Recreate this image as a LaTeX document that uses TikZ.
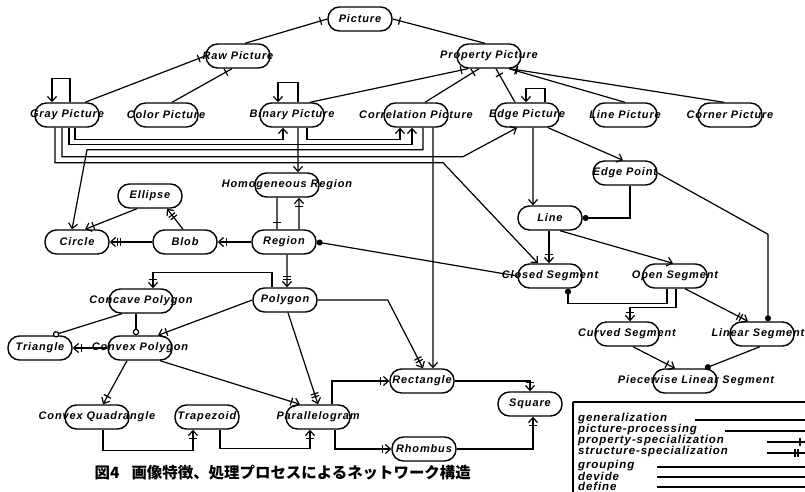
\documentclass[tikz,border=0pt]{standalone}
\usepackage{fontspec}
\setmainfont{Liberation Sans}
\newfontfamily\lblfont[LetterSpace=8]{Liberation Sans}
\newfontfamily\cjkfont{Noto Sans CJK JP}
\usetikzlibrary{arrows.meta,decorations.markings}
\tikzset{
  shp/.style={draw, line width=1.4bp, rectangle, rounded corners=11.5bp,
    minimum width=64bp, minimum height=24bp, inner sep=0pt},
  lbl/.style={font=\lblfont\bfseries\itshape\fontsize{11}{13}\selectfont, inner sep=0pt},
  leg/.style={font=\lblfont\bfseries\itshape\fontsize{11.5}{12}\selectfont, inner sep=0pt, anchor=west},
  e/.style={draw, line width=1.2bp},
  ar/.style={-{Straight Barb[length=5bp,width=9bp]}},
  tk/.style={postaction={decorate,decoration={markings,
      mark=at position #1 with {\draw[-,line width=1.2bp] (0,-4) -- (0,4);}}}},
  tka/.style={ar, tk=-9bp},
  dta/.style={ar, tk=-8bp, tk=-11bp},
  tke/.style={tk=-7bp},
  dot/.style={-{Circle[length=6bp]}},
  ocirc/.style={-{Circle[open,length=6.5bp,fill=white]}},
}
\newcommand\mknode[4]{\node[shp] (#1) at (#2,#3) {};\node[lbl] (#1-t) at (#1.center) {#4};}
\begin{document}
\begin{tikzpicture}[x=1bp,y=-1bp]
\fill[white] (0,0) rectangle (805,492);
\useasboundingbox (0,0) rectangle (805,492);
% nodes
\mknode{Picture}{360}{19}{Picture}
\mknode{RawPic}{238}{56}{Raw Picture}
\mknode{PropPic}{489}{56}{Property Picture}
\mknode{GrayPic}{67}{115}{Gray Picture}
\mknode{ColorPic}{166}{115}{Color Picture}
\mknode{BinPic}{292}{115}{Binary Picture}
\mknode{CorrPic}{416}{115}{Correlation Picture}
\mknode{EdgePic}{527}{115}{Edge Picture}
\mknode{LinePic}{625}{115}{Line Picture}
\mknode{CornerPic}{730}{115}{Corner Picture}
\mknode{Homog}{287}{185}{Homogeneous Region}
\mknode{Ellipse}{150}{196}{Ellipse}
\mknode{EdgePoint}{625}{173}{Edge Point}
\mknode{Line}{550}{218}{Line}
\mknode{Circle}{77}{242}{Circle}
\mknode{Blob}{185}{242}{Blob}
\mknode{Region}{284}{242}{Region}
\mknode{ClosedSeg}{550}{276}{Closed Segment}
\mknode{OpenSeg}{675}{276}{Open Segment}
\mknode{Concave}{141}{301}{Concave Polygon}
\mknode{Polygon}{285}{300}{Polygon}
\mknode{Triangle}{40}{348}{Triangle}
\mknode{Convex}{140}{348}{Convex Polygon}
\mknode{CurvedSeg}{627}{334}{Curved Segment}
\node[shp] (LinearSeg) at (762,334) {};
\node[lbl] (LinearSeg-t) at (758,334) {Linear Segment};
\node[shp] (Piecewise) at (685,381) {};
\node[lbl] (Piecewise-t) at (696,381) {Piecewise Linear Segment};
\mknode{Rectangle}{422}{381}{Rectangle}
\mknode{Square}{530}{404}{Square}
\mknode{ConvQuad}{97}{417}{Convex Quadrangle}
\mknode{Trapezoid}{207}{417}{Trapezoid}
\mknode{Parallelogram}{318}{417}{Parallelogram}
\mknode{Rhombus}{424}{449}{Rhombus}
% top hierarchy
\draw[e,tke] ([xshift=7bp]RawPic.north) -- (Picture.west);
\draw[e,tke] ([xshift=-4bp]PropPic.north) -- (Picture.east);
\draw[e,tke] ([xshift=18bp]GrayPic.north) -- (RawPic.west);
\draw[e,tke] ([xshift=6bp]ColorPic.north) -- ([xshift=-6bp]RawPic.south);
\draw[e,tke] ([xshift=18bp]BinPic.north) -- ([xshift=-21bp]PropPic.south);
\draw[e,tke] ([xshift=9bp]CorrPic.north) -- ([xshift=-10bp]PropPic.south);
\draw[e,tke] ([xshift=-12bp]EdgePic.north) -- ([xshift=7bp]PropPic.south);
\draw[e,tke] (LinePic.north) -- ([xshift=20bp]PropPic.south);
\draw[e,tke] ([xshift=-6bp]CornerPic.north) -- ([xshift=21bp]PropPic.south);
% self loops
\draw[e,ar] ([xshift=3bp]GrayPic.north) -- ++(0,-24) -| ([xshift=-15bp]GrayPic.north);
\draw[e,ar] ([xshift=6bp]BinPic.north) -- ++(0,-20) -| ([xshift=-14bp]BinPic.north);
\draw[e,ar] ([xshift=18bp]EdgePic.north) -- ++(0,-14) -| ([xshift=-1bp]EdgePic.north);
% picture processing
\draw[e,ar] ([xshift=8bp]GrayPic.south) -- ++(0,12) -| ([xshift=-9bp]BinPic.south);
\draw[e,ar] ([xshift=2bp]GrayPic.south) -- ++(0,17) -| ([xshift=-4bp]CorrPic.south);
\draw[e,ar] ([xshift=-5bp]GrayPic.south) -- ++(0,29) -- ++(401,0) -- ([xshift=-10bp]EdgePic.south);
\draw[e,ar] ([xshift=-12bp]GrayPic.south) -- ++(0,35) -- ++(388,0) -- ([xshift=-12bp]ClosedSeg.north);
\draw[e,ar] ([xshift=15bp]BinPic.south) -- ++(0,12) -| ([xshift=-16bp]CorrPic.south);
\draw[e,ar] ([xshift=7bp]CorrPic.south) -- ++(0,22) -- ++(-336,0) -- ([xshift=-5bp]Circle.north);
\draw[e,ar] ([xshift=17bp]CorrPic.south) -- ([xshift=11bp]Rectangle.north);
\draw[e,ar] ([xshift=6bp]BinPic.south) -- ([xshift=11bp]Homog.north);
% edge picture side
\draw[e,ar] ([xshift=6bp]EdgePic.south) -- ([xshift=-17bp]Line.north);
\draw[e,ar] ([xshift=21bp]EdgePic.south) -- ([xshift=-2bp]EdgePoint.north);
\draw[e,dot] ([xshift=5bp]EdgePoint.south) |- (Line.east);
\draw[e,dot] (EdgePoint.east) -- ([xshift=6bp,yshift=87bp]LinearSeg.north) -- ([xshift=6bp]LinearSeg.north);
\draw[e,tka] ([xshift=-1bp]Line.south) -- ([xshift=-1bp]ClosedSeg.north);
\draw[e,ar] ([xshift=10bp]Line.south) -- ([xshift=-2bp]OpenSeg.north);
\draw[e,dot] (ClosedSeg.west) -- (Region.east);
\draw[e,dot] ([xshift=-8bp]OpenSeg.south) -- ++(0,15) -| ([xshift=18bp]ClosedSeg.south);
\draw[e,tka] ([xshift=1bp]OpenSeg.south) -- ++(0,19) -| ([xshift=3bp]CurvedSeg.north);
\draw[e,dta] ([xshift=10bp]OpenSeg.south) -- ([xshift=-14bp]LinearSeg.north);
\draw[e,tka] ([xshift=6bp]CurvedSeg.south) -- ([xshift=-10bp]Piecewise.north);
\draw[e,dot] ([xshift=-2bp]LinearSeg.south) -- ([xshift=20bp]Piecewise.north);
% region cluster
\draw[e,tke] ([xshift=-10bp]Homog.south) -- ([xshift=-7bp]Region.north);
\draw[e,tka] ([xshift=15bp]Region.north) -- ([xshift=12bp]Homog.south);
\draw[e,tka] (Region.west) -- (Blob.east);
\draw[e,dta] (Blob.west) -- (Circle.east);
\draw[e,dta] ([xshift=-2bp]Blob.north) -- ([xshift=17bp]Ellipse.south);
\draw[e,tka] ([xshift=-13bp]Ellipse.south) -- ([xshift=8bp]Circle.north);
\draw[e,dta] ([xshift=3bp]Region.south) -- ([xshift=2bp]Polygon.north);
\draw[e,tka] ([xshift=-13bp]Polygon.north) -- ++(0,-15) -| ([xshift=12bp]Concave.north);
\draw[e,tka] (Polygon.west) -- ([xshift=18bp]Convex.north);
\draw[e,ocirc] ([xshift=-19bp]Concave.south) -- ([xshift=13bp]Triangle.north);
\draw[e,ocirc] ([xshift=-5bp]Concave.south) -- ([xshift=-4bp]Convex.north);
\draw[e,tka] (Convex.west) -- (Triangle.east);
\draw[e,tka] ([xshift=-13bp]Convex.south) -- ([xshift=6bp]ConvQuad.north);
\draw[e,tka] ([xshift=20bp]Convex.south) -- ([xshift=-18bp]Parallelogram.north);
\draw[e,dta] ([xshift=3bp]Polygon.south) -- (Parallelogram.north);
\draw[e,dta] (Polygon.east) -- ++(70,0) -- ([xshift=1bp]Rectangle.north);
\draw[e,tka] ([xshift=14bp]Parallelogram.north) |- (Rectangle.west);
\draw[e,tka] ([xshift=17bp]Parallelogram.south) |- (Rhombus.west);
\draw[e,tka] (Rectangle.east) -| (Square.north);
\draw[e,tka] (Rhombus.east) -| ([xshift=3bp]Square.south);
\draw[e,tka] ([xshift=6bp]ConvQuad.south) -- ++(0,21) -| ([xshift=-14bp]Trapezoid.south);
\draw[e,tka] ([xshift=13bp]Trapezoid.south) -- ++(0,19) -| ([xshift=-8bp]Parallelogram.south);
% legend
\draw[line width=1.6bp] (573,402) -- (810,402);
\draw[line width=1.1bp] (573,402) -- (573,495);
\node[leg] (lg1) at (578,419) {generalization};
\node[leg] (lg2) at (578,430) {picture-processing};
\node[leg] (lg3) at (578,441) {property-specialization};
\node[leg] (lg4) at (578,452) {structure-specialization};
\node[leg] (lg5) at (578,465.5) {grouping};
\node[leg] (lg6) at (578,476) {devide};
\node[leg] (lg7) at (578,486.5) {define};
\draw[e] (695,420) -- (810,420);
\draw[e] (725,431) -- (810,431);
\draw[e] (767,442) -- (810,442) (800,438) -- (800,446);
\draw[e] (767,453) -- (810,453) (795,449) -- (795,457) (798,449) -- (798,457);
\draw[e] (657,467) -- (810,467);
\draw[e] (657,477) -- (810,477);
\draw[e] (657,487) -- (810,487);
% caption
\node[font=\cjkfont\bfseries\fontsize{15.5}{16}\selectfont, anchor=east, inner sep=0pt] (cap) at (471,473) {図4\hspace{12bp}画像特徴、処理プロセスによるネットワーク構造};
\end{tikzpicture}
\end{document}
